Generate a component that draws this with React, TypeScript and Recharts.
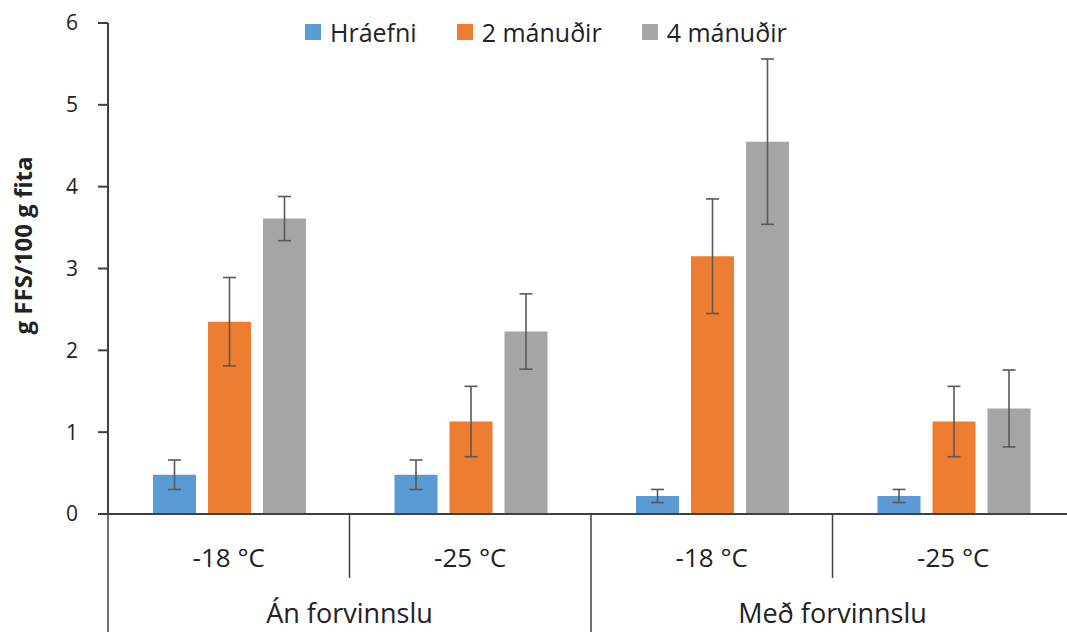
import React from 'react';
import { BarChart, Bar, XAxis, YAxis, ErrorBar, Legend } from 'recharts';

// Flokkar (neðri og efri lína á x-ás)
const categories = ['-18 °C', '-25 °C', '-18 °C', '-25 °C'];
const groups = ['Án forvinnslu', 'Án forvinnslu', 'Með forvinnslu', 'Með forvinnslu'];

// Gildi, g FFS/100 g fita
const hraefni = [0.48, 0.48, 0.22, 0.22];
const hraefniErr = [0.18, 0.18, 0.08, 0.08];
const manudir2 = [2.35, 1.13, 3.15, 1.13];
const manudir2Err = [0.54, 0.43, 0.70, 0.43];
const manudir4 = [3.61, 2.23, 4.55, 1.29];
const manudir4Err = [0.27, 0.46, 1.01, 0.47];

const yTicks = [0, 1, 2, 3, 4, 5, 6];

const series = [
  { key: 'hraefni', err: 'hraefniErr', name: 'Hráefni', color: '#5B9BD5' },
  { key: 'manudir2', err: 'manudir2Err', name: '2 mánuðir', color: '#ED7D31' },
  { key: 'manudir4', err: 'manudir4Err', name: '4 mánuðir', color: '#A5A5A5' },
];

const data = categories.map((c, i) => ({
  id: String(i),
  hraefni: hraefni[i],
  hraefniErr: hraefniErr[i],
  manudir2: manudir2[i],
  manudir2Err: manudir2Err[i],
  manudir4: manudir4[i],
  manudir4Err: manudir4Err[i],
}));

const FONT = '"Open Sans", sans-serif';
const AXIS = '#404040';
const TEXT = '#222';

const CHART_W = 1080;
const CHART_H = 660;
const MARGIN = { top: 23, right: 6, left: 0, bottom: 0 };
const Y_W = 108;
const BAND = (CHART_W - MARGIN.left - MARGIN.right - Y_W) / categories.length;

function CategoryTick(props: any) {
  const { x, y, payload } = props;
  const i = payload.index ?? Number(payload.value);
  const firstOfGroup = i === 0 || groups[i] !== groups[i - 1];
  const left = x - BAND / 2;
  const right = x + BAND / 2;
  const span = firstOfGroup ? groups.filter((g) => g === groups[i]).length : 0;
  return (
    <g>
      <line x1={left} x2={left} y1={y} y2={firstOfGroup ? y + 190 : y + 64} stroke={AXIS} strokeWidth={1.5} />
      {i === categories.length - 1 && (
        <line x1={right} x2={right} y1={y} y2={y + 190} stroke={AXIS} strokeWidth={1.5} />
      )}
      <text x={x} y={y + 53} textAnchor="middle" fontSize={26} fontFamily={FONT} fill={TEXT}>
        {categories[i]}
      </text>
      {firstOfGroup && (
        <text x={left + (span * BAND) / 2} y={y + 109} textAnchor="middle" fontSize={27} fontFamily={FONT} fill={TEXT}>
          {groups[i]}
        </text>
      )}
    </g>
  );
}

function YLabel(props: any) {
  const vb = props.viewBox || { x: 0, y: 23, width: 108, height: 491 };
  const cx = 32;
  const cy = vb.y + vb.height / 2 - 23;
  return (
    <text
      x={cx}
      y={cy}
      transform={`rotate(-90, ${cx}, ${cy})`}
      textAnchor="middle"
      fontSize={24}
      fontWeight="bold"
      fontFamily={FONT}
      fill={TEXT}
    >
      g FFS/100 g fita
    </text>
  );
}

function LegendContent() {
  return (
    <div style={{ display: 'flex', alignItems: 'center', fontFamily: FONT, fontSize: 25, color: TEXT, whiteSpace: 'nowrap' }}>
      {series.map((s) => (
        <div key={s.key} style={{ display: 'flex', alignItems: 'center', marginRight: 40 }}>
          <span style={{ width: 16, height: 16, background: s.color, display: 'inline-block', marginRight: 9 }} />
          <span>{s.name}</span>
        </div>
      ))}
    </div>
  );
}

export default function App() {
  return (
    <div style={{ position: 'absolute', left: 0, top: 0, width: 1067, height: 632, overflow: 'hidden', background: '#fff' }}>
      <BarChart
        width={CHART_W}
        height={CHART_H}
        data={data}
        margin={MARGIN}
        barCategoryGap={45}
        barGap={12}
      >
        <XAxis
          dataKey="id"
          height={146}
          tickLine={false}
          tickSize={0}
          tickMargin={0}
          axisLine={{ stroke: AXIS, strokeWidth: 2 }}
          tick={<CategoryTick />}
          interval={0}
        />
        <YAxis
          width={Y_W}
          domain={[0, 6]}
          ticks={yTicks}
          interval={0}
          tickSize={10}
          tickMargin={20}
          axisLine={{ stroke: AXIS, strokeWidth: 2 }}
          tickLine={{ stroke: AXIS, strokeWidth: 2 }}
          tick={{ fontSize: 21, fontFamily: FONT, fill: TEXT }}
          label={<YLabel />}
        />
        <Legend
          verticalAlign="middle"
          align="center"
          layout="horizontal"
          wrapperStyle={{ left: 305, top: 15, width: 'auto' }}
          content={<LegendContent />}
        />
        {series.map((s) => (
          <Bar key={s.key} dataKey={s.key} name={s.name} fill={s.color} isAnimationActive={false}>
            <ErrorBar dataKey={s.err} width={6.5} stroke="#595959" strokeWidth={1.6} direction="y" isAnimationActive={false} />
          </Bar>
        ))}
      </BarChart>
    </div>
  );
}
